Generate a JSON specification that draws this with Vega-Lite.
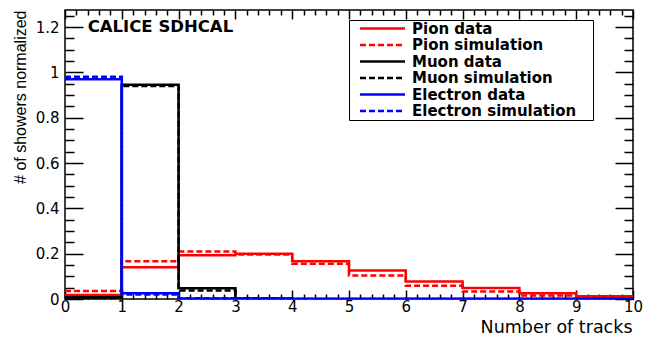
{
  "$schema": "https://vega.github.io/schema/vega-lite/v6.json",
  "width": 568,
  "height": 289,
  "autosize": {"type": "none"},
  "padding": {"left": 65, "top": 10, "right": 20, "bottom": 38},
  "background": "white",
  "config": {
    "view": {"stroke": "black", "strokeWidth": 1.5},
    "axis": {"domain": false, "grid": false, "ticks": true, "tickColor": "black", "tickWidth": 1.5, "labelColor": "black", "titleColor": "black", "zindex": 1}
  },
  "datasets": {
    "hist": [
      {"series": "Pion data", "x": 0, "y": 0.018}, {"series": "Pion data", "x": 1, "y": 0.14}, {"series": "Pion data", "x": 2, "y": 0.193}, {"series": "Pion data", "x": 3, "y": 0.2}, {"series": "Pion data", "x": 4, "y": 0.166}, {"series": "Pion data", "x": 5, "y": 0.126}, {"series": "Pion data", "x": 6, "y": 0.077}, {"series": "Pion data", "x": 7, "y": 0.049}, {"series": "Pion data", "x": 8, "y": 0.025}, {"series": "Pion data", "x": 9, "y": 0.012}, {"series": "Pion data", "x": 10, "y": 0.012},
      {"series": "Pion simulation", "x": 0, "y": 0.035}, {"series": "Pion simulation", "x": 1, "y": 0.166}, {"series": "Pion simulation", "x": 2, "y": 0.21}, {"series": "Pion simulation", "x": 3, "y": 0.196}, {"series": "Pion simulation", "x": 4, "y": 0.155}, {"series": "Pion simulation", "x": 5, "y": 0.104}, {"series": "Pion simulation", "x": 6, "y": 0.059}, {"series": "Pion simulation", "x": 7, "y": 0.033}, {"series": "Pion simulation", "x": 8, "y": 0.015}, {"series": "Pion simulation", "x": 9, "y": 0.008}, {"series": "Pion simulation", "x": 10, "y": 0.008},
      {"series": "Muon data", "x": 0, "y": 0.008}, {"series": "Muon data", "x": 1, "y": 0.945}, {"series": "Muon data", "x": 2, "y": 0.047}, {"series": "Muon data", "x": 3, "y": 0.002}, {"series": "Muon data", "x": 4, "y": 0}, {"series": "Muon data", "x": 5, "y": 0}, {"series": "Muon data", "x": 6, "y": 0}, {"series": "Muon data", "x": 7, "y": 0}, {"series": "Muon data", "x": 8, "y": 0}, {"series": "Muon data", "x": 9, "y": 0}, {"series": "Muon data", "x": 10, "y": 0},
      {"series": "Muon simulation", "x": 0, "y": 0.006}, {"series": "Muon simulation", "x": 1, "y": 0.94}, {"series": "Muon simulation", "x": 2, "y": 0.037}, {"series": "Muon simulation", "x": 3, "y": 0.002}, {"series": "Muon simulation", "x": 4, "y": 0}, {"series": "Muon simulation", "x": 5, "y": 0}, {"series": "Muon simulation", "x": 6, "y": 0}, {"series": "Muon simulation", "x": 7, "y": 0}, {"series": "Muon simulation", "x": 8, "y": 0}, {"series": "Muon simulation", "x": 9, "y": 0}, {"series": "Muon simulation", "x": 10, "y": 0},
      {"series": "Electron data", "x": 0, "y": 0.97}, {"series": "Electron data", "x": 1, "y": 0.025}, {"series": "Electron data", "x": 2, "y": 0.002}, {"series": "Electron data", "x": 3, "y": 0}, {"series": "Electron data", "x": 4, "y": 0}, {"series": "Electron data", "x": 5, "y": 0}, {"series": "Electron data", "x": 6, "y": 0}, {"series": "Electron data", "x": 7, "y": 0}, {"series": "Electron data", "x": 8, "y": 0}, {"series": "Electron data", "x": 9, "y": 0}, {"series": "Electron data", "x": 10, "y": 0},
      {"series": "Electron simulation", "x": 0, "y": 0.98}, {"series": "Electron simulation", "x": 1, "y": 0.02}, {"series": "Electron simulation", "x": 2, "y": 0.003}, {"series": "Electron simulation", "x": 3, "y": 0}, {"series": "Electron simulation", "x": 4, "y": 0}, {"series": "Electron simulation", "x": 5, "y": 0}, {"series": "Electron simulation", "x": 6, "y": 0}, {"series": "Electron simulation", "x": 7, "y": 0}, {"series": "Electron simulation", "x": 8, "y": 0}, {"series": "Electron simulation", "x": 9, "y": 0}, {"series": "Electron simulation", "x": 10, "y": 0}
    ],
    "notes": [
      {"x": 0.4, "y": 1.2, "label": "CALICE SDHCAL"}
    ]
  },
  "layer": [
    {
      "data": {"name": "hist"},
      "transform": [{"filter": "indexof(datum.series, 'Pion') === 0"}],
      "mark": {"type": "line", "interpolate": "step-after", "strokeWidth": 2.5, "clip": true},
      "encoding": {
        "x": {
          "field": "x", "type": "quantitative",
          "scale": {"domain": [0, 10], "nice": false, "zero": false},
          "axis": {
            "orient": "bottom",
            "values": [0,1,2,3,4,5,6,7,8,9,10],
            "tickSize": -9,
            "labelFont": "DejaVu Sans", "labelFontSize": 15, "labelPadding": 9,
            "labelFlush": false, "labelOverlap": false,
            "title": "Number of tracks",
            "titleFont": "DejaVu Sans", "titleFontSize": 17.5, "titleFontWeight": "normal",
            "titleAnchor": "end", "titleAlign": "right", "titleX": 567, "titleY": 33.5, "titleBaseline": "alphabetic"
          }
        },
        "y": {
          "field": "y", "type": "quantitative",
          "scale": {"domain": [0, 1.275], "nice": false},
          "axis": {
            "orient": "left",
            "values": [0,0.2,0.4,0.6,0.8,1,1.2],
            "format": "~g",
            "tickSize": -18,
            "labelFont": "DejaVu Sans", "labelFontSize": 15, "labelPadding": 24,
            "labelFlush": false, "labelOverlap": false,
            "title": "# of showers normalized",
            "titleFont": "Liberation Sans", "titleFontSize": 16, "titleFontWeight": "normal",
            "titleAngle": 270, "titleAlign": "right", "titleBaseline": "middle",
            "titleX": -45, "titleY": 0
          }
        },
        "color": {
          "field": "series", "type": "nominal",
          "scale": {
            "domain": ["Pion data", "Pion simulation", "Muon data", "Muon simulation", "Electron data", "Electron simulation"],
            "range": ["#ff0000", "#ff0000", "#000000", "#000000", "#0000ff", "#0000ff"]
          },
          "legend": {
            "title": " ", "titleOrient": "right", "titlePadding": 16, "titleFontSize": 4,
            "orient": "none", "legendX": 284, "legendY": 10,
            "symbolType": "M-5,0H5", "symbolSize": 81, "symbolStrokeWidth": 2.5, "symbolFillColor": "transparent",
            "symbolOffset": 25, "labelOffset": 22,
            "labelFont": "DejaVu Sans", "labelFontSize": 15, "labelFontWeight": "bold", "labelColor": "black",
            "rowPadding": 0.5, "padding": 1,
            "strokeColor": "black", "fillColor": "white", "labelLimit": 300
          }
        },
        "strokeDash": {
          "field": "series", "type": "nominal",
          "scale": {
            "domain": ["Pion data", "Pion simulation", "Muon data", "Muon simulation", "Electron data", "Electron simulation"],
            "range": [[1, 0], [6, 3], [1, 0], [6, 3], [1, 0], [6, 3]]
          },
          "legend": {
            "title": " ", "titleOrient": "right", "titlePadding": 16, "titleFontSize": 4,
            "orient": "none", "legendX": 284, "legendY": 10,
            "symbolType": "M-5,0H5", "symbolSize": 81, "symbolStrokeWidth": 2.5, "symbolFillColor": "transparent",
            "symbolOffset": 25, "labelOffset": 22,
            "labelFont": "DejaVu Sans", "labelFontSize": 15, "labelFontWeight": "bold", "labelColor": "black",
            "rowPadding": 0.5, "padding": 1,
            "strokeColor": "black", "fillColor": "white", "labelLimit": 300
          }
        }
      }
    },
    {
      "data": {"name": "hist"},
      "transform": [{"filter": "indexof(datum.series, 'Muon') === 0"}],
      "mark": {"type": "line", "interpolate": "step-after", "strokeWidth": 2.5, "clip": true},
      "encoding": {
        "x": {
          "field": "x", "type": "quantitative",
          "axis": {
            "orient": "bottom", "title": null, "labels": false, "tickSize": -5,
            "values": [0.2,0.4,0.6,0.8,1.2,1.4,1.6,1.8,2.2,2.4,2.6,2.8,3.2,3.4,3.6,3.8,4.2,4.4,4.6,4.8,5.2,5.4,5.6,5.8,6.2,6.4,6.6,6.8,7.2,7.4,7.6,7.8,8.2,8.4,8.6,8.8,9.2,9.4,9.6,9.8]
          }
        },
        "y": {
          "field": "y", "type": "quantitative",
          "axis": {
            "orient": "left", "title": null, "labels": false, "tickSize": -9,
            "values": [0.05,0.1,0.15,0.25,0.3,0.35,0.45,0.5,0.55,0.65,0.7,0.75,0.85,0.9,0.95,1.05,1.1,1.15,1.25]
          }
        },
        "color": {"field": "series", "type": "nominal"},
        "strokeDash": {"field": "series", "type": "nominal"}
      }
    },
    {
      "data": {"name": "hist"},
      "transform": [{"filter": "indexof(datum.series, 'Electron') === 0"}],
      "mark": {"type": "line", "interpolate": "step-after", "strokeWidth": 2.5, "clip": true},
      "encoding": {
        "x": {
          "field": "x", "type": "quantitative",
          "axis": {"orient": "top", "title": null, "labels": false, "tickSize": -9, "values": [0,1,2,3,4,5,6,7,8,9,10]}
        },
        "y": {
          "field": "y", "type": "quantitative",
          "axis": {"orient": "right", "title": null, "labels": false, "tickSize": -18, "values": [0,0.2,0.4,0.6,0.8,1,1.2]}
        },
        "color": {"field": "series", "type": "nominal"},
        "strokeDash": {"field": "series", "type": "nominal"}
      }
    },
    {
      "data": {"name": "notes"},
      "mark": {"type": "text", "align": "left", "baseline": "middle", "font": "DejaVu Sans", "fontSize": 16.5, "fontWeight": "bold", "color": "black"},
      "encoding": {
        "x": {
          "field": "x", "type": "quantitative",
          "axis": {
            "orient": "top", "title": null, "labels": false, "tickSize": -5,
            "values": [0.2,0.4,0.6,0.8,1.2,1.4,1.6,1.8,2.2,2.4,2.6,2.8,3.2,3.4,3.6,3.8,4.2,4.4,4.6,4.8,5.2,5.4,5.6,5.8,6.2,6.4,6.6,6.8,7.2,7.4,7.6,7.8,8.2,8.4,8.6,8.8,9.2,9.4,9.6,9.8]
          }
        },
        "y": {
          "field": "y", "type": "quantitative",
          "axis": {
            "orient": "right", "title": null, "labels": false, "tickSize": -9,
            "values": [0.05,0.1,0.15,0.25,0.3,0.35,0.45,0.5,0.55,0.65,0.7,0.75,0.85,0.9,0.95,1.05,1.1,1.15,1.25]
          }
        },
        "text": {"field": "label", "type": "nominal"}
      }
    }
  ],
  "resolve": {"axis": {"x": "independent", "y": "independent"}}
}
